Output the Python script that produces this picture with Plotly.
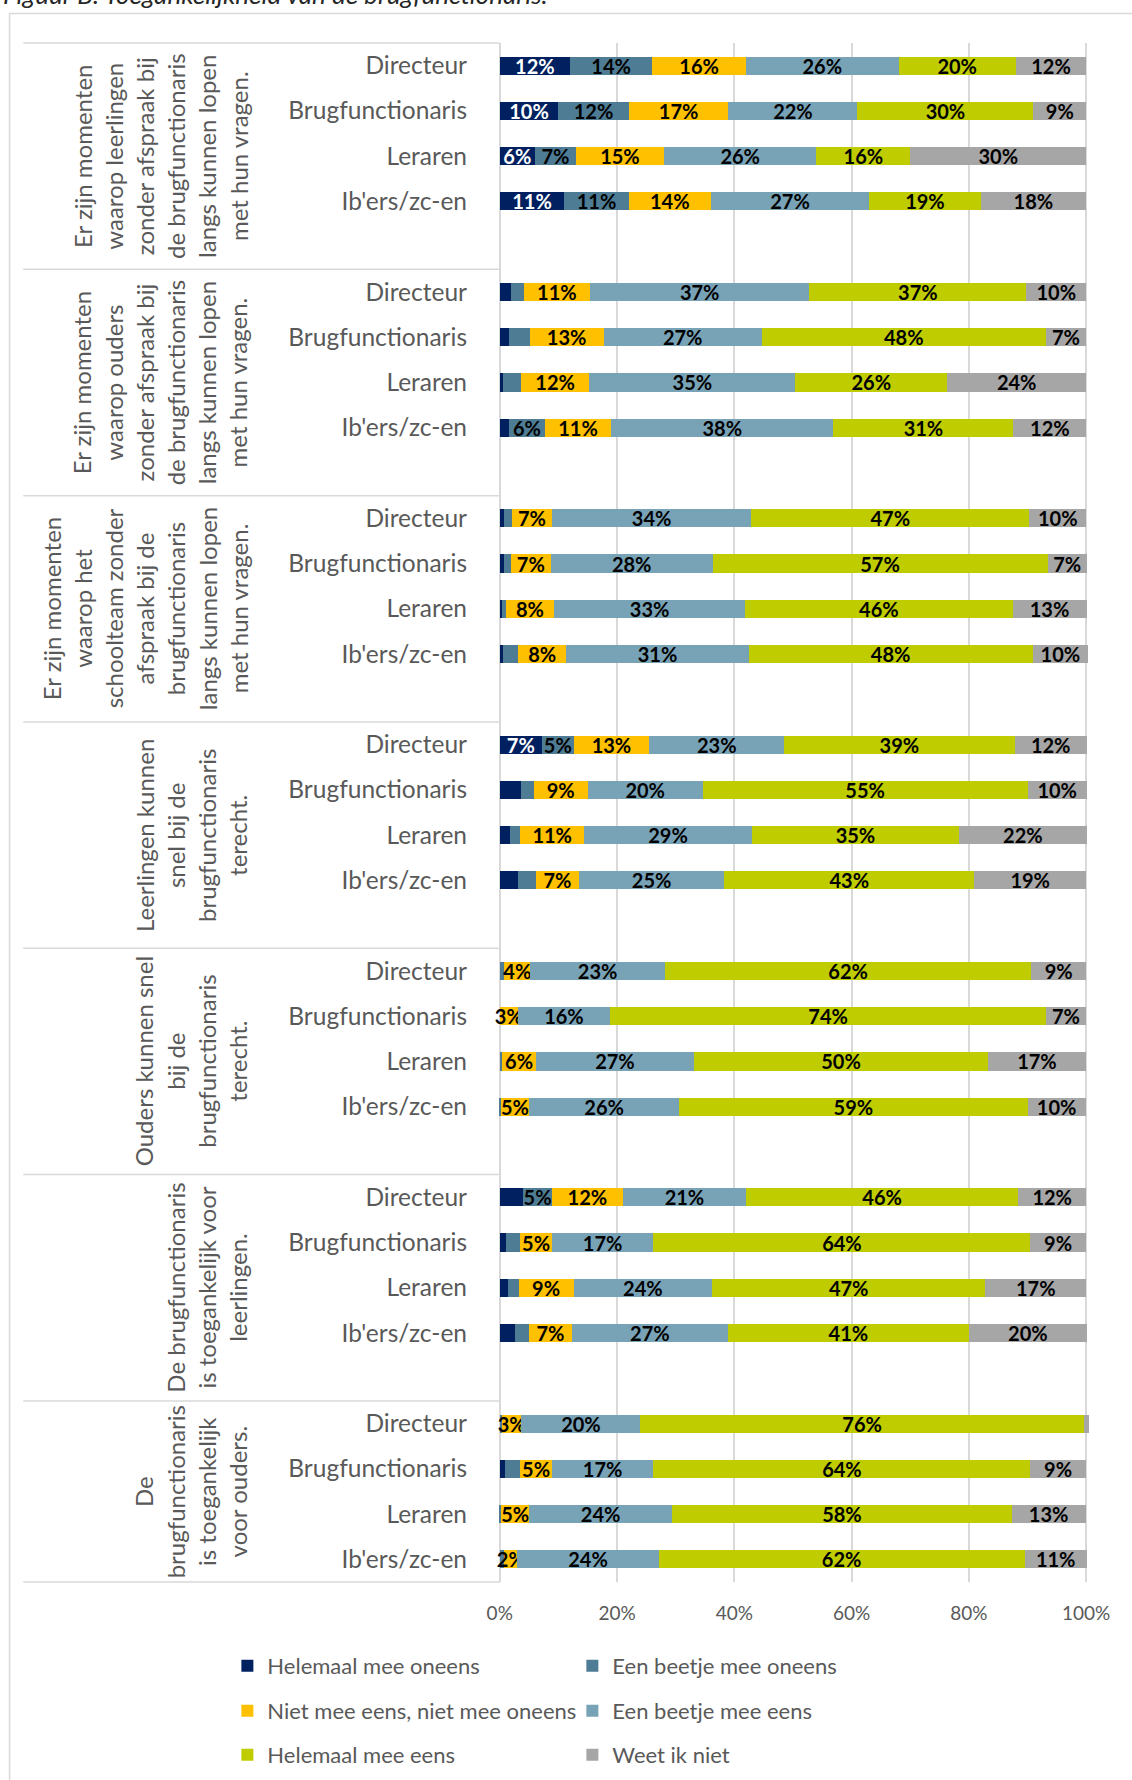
import plotly.graph_objects as go

# ---------------- data ----------------
groups = [
    "Er zijn momenten<br>waarop leerlingen<br>zonder afspraak bij<br>de brugfunctionaris<br>langs kunnen lopen<br>met hun vragen.",
    "Er zijn momenten<br>waarop ouders<br>zonder afspraak bij<br>de brugfunctionaris<br>langs kunnen lopen<br>met hun vragen.",
    "Er zijn momenten<br>waarop het<br>schoolteam zonder<br>afspraak bij de<br>brugfunctionaris<br>langs kunnen lopen<br>met hun vragen.",
    "Leerlingen kunnen<br>snel bij de<br>brugfunctionaris<br>terecht.",
    "Ouders kunnen snel<br>bij de<br>brugfunctionaris<br>terecht.",
    "De brugfunctionaris<br>is toegankelijk voor<br>leerlingen.",
    "De<br>brugfunctionaris<br>is toegankelijk<br>voor ouders.",
]
roles = ["Directeur", "Brugfunctionaris", "Leraren", "Ib'ers/zc-en"]

series_names = [
    "Helemaal mee oneens",
    "Een beetje mee oneens",
    "Niet mee eens, niet mee oneens",
    "Een beetje mee eens",
    "Helemaal mee eens",
    "Weet ik niet",
]

# values per group (rows) and role (Directeur, Brugfunctionaris, Leraren, Ib'ers/zc-en)
helemaal_oneens = [
    [12, 10, 6, 11],
    [1.9, 1.6, 0.5, 1.6],
    [0.7, 0.8, 0.35, 0.55],
    [7.2, 3.7, 1.8, 3.1],
    [0, 0, 0, 0],
    [4.0, 1.0, 1.4, 2.6],
    [0, 0.9, 0, 0],
]
beetje_oneens = [
    [14, 12, 7, 11],
    [2.2, 3.5, 3.1, 6.1],
    [1.4, 1.1, 0.7, 2.6],
    [5.4, 2.1, 1.7, 3.1],
    [0.8, 0, 0.4, 0.2],
    [4.9, 2.5, 1.8, 2.4],
    [0.4, 2.6, 0.3, 0.8],
]
neutraal = [
    [16, 17, 15, 14],
    [11.3, 12.6, 11.7, 11.3],
    [6.8, 6.8, 8.2, 8.2],
    [12.9, 9.2, 10.9, 7.3],
    [4.4, 3.1, 5.8, 4.8],
    [12.1, 5.4, 9.4, 7.3],
    [3.3, 5.4, 4.7, 2.2],
]
beetje_eens = [
    [26, 22, 26, 27],
    [37.4, 27.0, 35.1, 37.9],
    [34.0, 27.6, 32.6, 31.1],
    [23.0, 19.6, 28.6, 24.8],
    [23.0, 15.7, 26.9, 25.6],
    [21.0, 17.3, 23.6, 26.6],
    [20.3, 17.3, 24.4, 24.1],
]
helemaal_eens = [
    [20, 30, 16, 19],
    [37.0, 48.4, 25.9, 30.7],
    [47.4, 57.1, 45.6, 48.4],
    [39.3, 55.4, 35.3, 42.6],
    [62.4, 74.4, 50.2, 59.4],
    [46.4, 64.3, 46.6, 41.1],
    [75.6, 64.3, 57.9, 62.4],
]
weet_niet = [
    [12, 9, 30, 18],
    [10.2, 6.9, 23.7, 12.4],
    [9.7, 6.7, 12.6, 9.5],
    [12.3, 10.1, 21.8, 19.1],
    [9.4, 6.7, 16.6, 9.9],
    [11.6, 9.4, 17.2, 20.1],
    [0.8, 9.4, 12.6, 10.6],
]
series_values = [helemaal_oneens, beetje_oneens, neutraal, beetje_eens, helemaal_eens, weet_niet]

x_ticks = [0, 20, 40, 60, 80, 100]
x_ticktext = ["0%", "20%", "40%", "60%", "80%", "100%"]

# ---------------- style ----------------
colors = ["#002060", "#4D7C94", "#FFC000", "#78A3B7", "#BFCC00", "#A6A6A6"]
label_colors = ["#FFFFFF", "#000000", "#000000", "#000000", "#000000", "#000000"]
FONT = "Lato"
GRAY = "#595959"
LINE = "#D9D9D9"

W, H = 1132, 1780
PX0, PX100 = 499.6, 1086.6          # pixel positions of 0% and 100%
XMIN, XMAX = -2.0, 101.5
scale = (PX100 - PX0) / 100.0
L = PX0 - (0 - XMIN) * scale
R = W - (PX100 + (XMAX - 100) * scale)
T, B = 43, H - 1582
plot_w = W - L - R
plot_h = H - T - B

def px_to_paper_x(px):
    return (px - L) / plot_w

def py_to_paper_y(py):
    return (H - B - py) / plot_h

SLOTS_PER_GROUP = 5
n_groups = len(groups)
n_slots = SLOTS_PER_GROUP * n_groups - 1

slot_y = []
for g in range(n_groups):
    for r in range(len(roles)):
        slot_y.append(SLOTS_PER_GROUP * g + r)
role_labels = [roles[r] for g in range(n_groups) for r in range(len(roles))]

fig = go.Figure()
legend_ids = ["legend", "legend", "legend2", "legend2", "legend3", "legend3"]
for si, (name, vals) in enumerate(zip(series_names, series_values)):
    flat = [v for row in vals for v in row]
    texts = []
    for v in flat:
        show = (v >= 4.5) or (si == 2 and v > 0)
        texts.append(f"{int(v + 0.5)}%" if show else "")
    fig.add_trace(go.Bar(
        name=name,
        x=flat,
        y=slot_y,
        orientation="h",
        marker=dict(color=colors[si], line=dict(width=0)),
        text=texts,
        textposition="inside",
        insidetextanchor="middle",
        textangle=0,
        textfont=dict(family=FONT, size=20, color=label_colors[si], weight=700),
        hoverinfo="skip",
        legend=legend_ids[si],
    ))

shapes = []
# group separator lines in the category area
x_left_panel = px_to_paper_x(22.7)
x_zero = px_to_paper_x(PX0)
bounds = [SLOTS_PER_GROUP * g - 0.5 for g in range(n_groups)] + [n_slots - 0.5]
for b in bounds:
    yp = (n_slots - 0.5 - b) / n_slots
    shapes.append(dict(type="line", xref="paper", yref="paper", x0=x_left_panel, x1=x_zero,
                       y0=yp, y1=yp, line=dict(color=LINE, width=1.5), layer="below"))
# outer chart border
shapes.append(dict(type="rect", xref="paper", yref="paper",
                   x0=px_to_paper_x(9), x1=px_to_paper_x(1145),
                   y0=py_to_paper_y(1795), y1=py_to_paper_y(13.5),
                   line=dict(color=LINE, width=1.5), fillcolor="rgba(0,0,0,0)", layer="below"))

annotations = []
for g, txt in enumerate(groups):
    top = SLOTS_PER_GROUP * g - 0.5
    bot = min(SLOTS_PER_GROUP * g + 4.5, n_slots - 0.5)
    annotations.append(dict(
        text=txt, xref="paper", yref="y", x=px_to_paper_x(254), y=(top + bot) / 2,
        xanchor="right", yanchor="middle", textangle=-90, align="center",
        showarrow=False, font=dict(family=FONT, size=24, color=GRAY),
    ))
annotations.append(dict(
    text="<i>Figuur B: Toegankelijkheid van de brugfunctionaris.</i>",
    xref="paper", yref="paper", x=px_to_paper_x(0), y=py_to_paper_y(12),
    xanchor="left", yanchor="bottom", showarrow=False,
    font=dict(family=FONT, size=26, color="#262626"),
))

legend_common = dict(orientation="h", xanchor="left", yanchor="middle",
                     x=px_to_paper_x(227),
                     font=dict(family=FONT, size=22, color=GRAY),
                     entrywidth=300, entrywidthmode="pixels", bgcolor="rgba(0,0,0,0)",
                     traceorder="normal")

fig.update_layout(
    width=W, height=H,
    margin=dict(l=L, r=R, t=T, b=B, pad=0, autoexpand=False),
    paper_bgcolor="white", plot_bgcolor="white",
    barmode="stack", bargap=0.6,
    showlegend=True,
    legend=dict(**legend_common, y=py_to_paper_y(1666)),
    legend2=dict(**legend_common, y=py_to_paper_y(1711)),
    legend3=dict(**legend_common, y=py_to_paper_y(1755)),
    xaxis=dict(range=[XMIN, XMAX], tickvals=x_ticks, ticktext=x_ticktext,
               showgrid=True, gridcolor=LINE, gridwidth=1.5, zeroline=False,
               showline=False, ticks="", ticklabelstandoff=18, automargin=False,
               tickfont=dict(family=FONT, size=19, color=GRAY)),
    yaxis=dict(range=[n_slots - 0.5, -0.5], tickvals=slot_y, ticktext=role_labels,
               showgrid=False, zeroline=False, showline=False, ticks="", automargin=False,
               ticklabelstandoff=20, tickfont=dict(family=FONT, size=24.5, color=GRAY)),
    uniformtext=dict(minsize=20, mode="show"),
    shapes=shapes,
    annotations=annotations,
)

fig.write_html("out.html", config={"displayModeBar": False},
               post_script="document.body.style.margin='0';")
